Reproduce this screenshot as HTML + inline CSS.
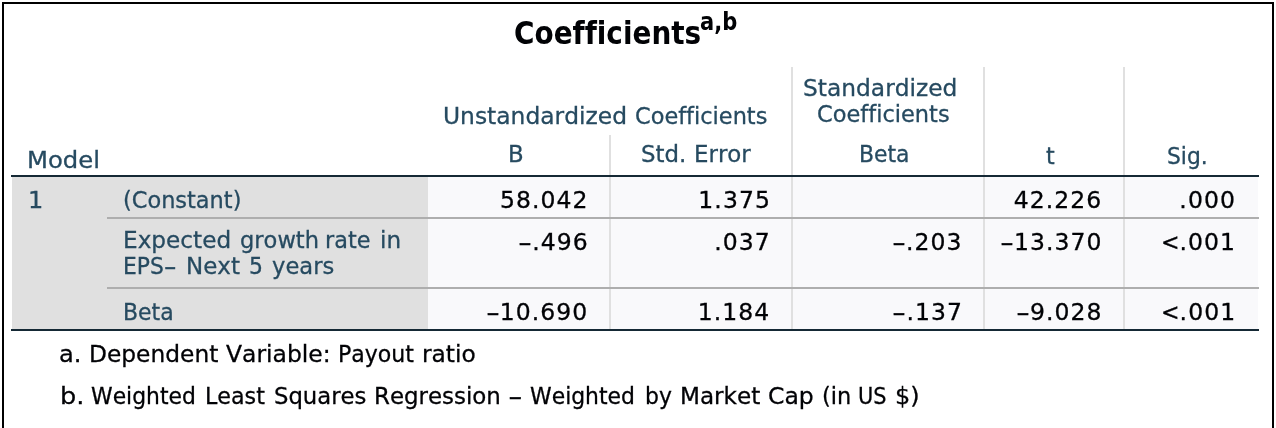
<!DOCTYPE html>
<html lang="en"><head><meta charset="utf-8"><title>Coefficients</title>
<style>
html,body{margin:0;padding:0;background:#fff;}
body{width:1276px;height:428px;overflow:hidden;position:relative;font-family:"DejaVu Sans", "Liberation Sans", sans-serif;font-size:23.5px;font-variant-ligatures:none;font-kerning:none;}
.frame{position:absolute;left:2px;top:2px;width:1268px;height:440px;border:2px solid #000;border-bottom:none;}
.bg{position:absolute;}
.g{position:absolute;left:0;top:0;width:0;height:0;margin:0;padding:0;white-space:pre;}
.t{position:absolute;white-space:pre;line-height:32px;height:32px;transform-origin:0 0;-webkit-text-stroke:0.3px;}
.lbl{color:#264a60;}
.num,.fn,.ttl,.sup{color:#010205;}
.ttl{font-family:"DejaVu Sans Condensed", "DejaVu Sans", "Liberation Sans", sans-serif;font-size:32px;font-weight:bold;}
.sup{font-family:"DejaVu Sans Condensed", "DejaVu Sans", "Liberation Sans", sans-serif;font-size:24px;font-weight:bold;}
.ttl .t,.sup .t{-webkit-text-stroke:0;}
.num{letter-spacing:1.05px;}
.lt{display:inline-block;width:19px;transform:scaleX(0.94);transform-origin:0 50%;letter-spacing:0;}
.m{display:inline-block;width:14px;transform:scaleX(1.65);transform-origin:0 50%;letter-spacing:0;}
</style></head><body>
<div class="frame"></div>

<div class="bg" style="left:12px;top:177px;width:416px;height:152px;background:#e0e0e0"></div>
<div class="bg" style="left:428px;top:177px;width:830px;height:152px;background:#f9f9fb"></div>
<div class="bg" style="left:609px;top:135px;width:2px;height:194px;background:#e0e0e0"></div>
<div class="bg" style="left:791px;top:67px;width:2px;height:262px;background:#e0e0e0"></div>
<div class="bg" style="left:983px;top:67px;width:2px;height:262px;background:#e0e0e0"></div>
<div class="bg" style="left:1123px;top:67px;width:2px;height:262px;background:#e0e0e0"></div>
<div class="bg" style="left:107px;top:217px;width:1152px;height:2px;background:#aeaeae"></div>
<div class="bg" style="left:107px;top:287px;width:1152px;height:2px;background:#aeaeae"></div>
<div class="bg" style="left:11px;top:175px;width:1248px;height:2px;background:#152935"></div>
<div class="bg" style="left:11px;top:329px;width:1248px;height:2px;background:#152935"></div>

<div class="g ttl" id="ttl"><span class="t" id="ttl_0" style="left:513.55px;top:17.31px;transform:scaleX(0.9690);">Coefficients</span></div>
<div class="g sup" id="sup"><span class="t" id="sup_0" style="left:699.87px;top:6.00px;transform:scaleX(0.9739);">a,b</span></div>
<div class="g lbl" id="hModel"><span class="t" id="hModel_0" style="left:26.90px;top:144.00px;transform:scaleX(1.0342);">Model</span></div>
<div class="g lbl" id="hUnstd"><span class="t" id="hUnstd_0" style="left:443.36px;top:100.00px;transform:scaleX(0.9948);">Unstandardized</span> <span class="t" id="hUnstd_1" style="left:635.10px;top:100.00px;transform:scaleX(0.9551);">Coefficients</span></div>
<div class="g lbl" id="hStd1"><span class="t" id="hStd1_0" style="left:803.06px;top:72.00px;transform:scaleX(0.9926);">Standardized</span></div>
<div class="g lbl" id="hStd2"><span class="t" id="hStd2_0" style="left:817.09px;top:98.00px;transform:scaleX(0.9571);">Coefficients</span></div>
<div class="g lbl" id="hB"><span class="t" id="hB_0" style="left:507.90px;top:138.00px;transform:scaleX(0.9734);">B</span></div>
<div class="g lbl" id="hSE"><span class="t" id="hSE_0" style="left:641.48px;top:138.00px;transform:scaleX(0.9738);">Std.</span> <span class="t" id="hSE_1" style="left:693.85px;top:138.00px;transform:scaleX(0.9742);">Error</span></div>
<div class="g lbl" id="hBeta"><span class="t" id="hBeta_0" style="left:859.17px;top:138.00px;transform:scaleX(0.9322);">Beta</span></div>
<div class="g lbl" id="ht"><span class="t" id="ht_0" style="left:1046.21px;top:140.00px;transform:scaleX(0.9475);">t</span></div>
<div class="g lbl" id="hSig"><span class="t" id="hSig_0" style="left:1167.10px;top:140.00px;transform:scaleX(0.9298);">Sig.</span></div>
<div class="g lbl" id="r1m"><span class="t" id="r1m_0" style="left:27.87px;top:184.00px;transform:scaleX(1.0231);">1</span></div>
<div class="g lbl" id="r1l"><span class="t" id="r1l_0" style="left:122.95px;top:184.00px;transform:scaleX(0.9548);">(Constant)</span></div>
<div class="g lbl" id="r2l1"><span class="t" id="r2l1_0" style="left:122.94px;top:224.00px;transform:scaleX(0.9861);">Expected</span> <span class="t" id="r2l1_1" style="left:240.16px;top:224.00px;transform:scaleX(0.9604);">growth</span> <span class="t" id="r2l1_2" style="left:325.39px;top:224.00px;transform:scaleX(0.9526);">rate</span> <span class="t" id="r2l1_3" style="left:380.05px;top:224.00px;transform:scaleX(0.9841);">in</span></div>
<div class="g lbl" id="r2l2"><span class="t" id="r2l2_0" style="left:123.31px;top:250.00px;transform:scaleX(0.9283);">EPS<span class="m">-</span></span> <span class="t" id="r2l2_1" style="left:186.32px;top:250.00px;transform:scaleX(0.9774);">Next</span> <span class="t" id="r2l2_2" style="left:248.80px;top:250.00px;transform:scaleX(0.9357);">5</span> <span class="t" id="r2l2_3" style="left:271.64px;top:250.00px;transform:scaleX(0.9621);">years</span></div>
<div class="g lbl" id="r3l"><span class="t" id="r3l_0" style="left:123.18px;top:296.00px;transform:scaleX(0.9341);">Beta</span></div>
<div class="g num" id="r1c1"><span class="t" id="r1c1_0" style="left:499.93px;top:184.00px;">58.042</span></div>
<div class="g num" id="r1c2"><span class="t" id="r1c2_0" style="left:698.36px;top:184.00px;">1.375</span></div>
<div class="g num" id="r1c4"><span class="t" id="r1c4_0" style="left:1013.64px;top:184.00px;">42.226</span></div>
<div class="g num" id="r1c5"><span class="t" id="r1c5_0" style="left:1179.36px;top:184.00px;">.000</span></div>
<div class="g num" id="r2c1"><span class="t" id="r2c1_0" style="left:518.15px;top:226.00px;"><span class="m">-</span>.496</span></div>
<div class="g num" id="r2c2"><span class="t" id="r2c2_0" style="left:714.28px;top:226.00px;">.037</span></div>
<div class="g num" id="r2c3"><span class="t" id="r2c3_0" style="left:892.06px;top:226.00px;"><span class="m">-</span>.203</span></div>
<div class="g num" id="r2c4"><span class="t" id="r2c4_0" style="left:999.88px;top:226.00px;"><span class="m">-</span>13.370</span></div>
<div class="g num" id="r2c5"><span class="t" id="r2c5_0" style="left:1160.55px;top:226.00px;"><span class="lt">&lt;</span>.001</span></div>
<div class="g num" id="r3c1"><span class="t" id="r3c1_0" style="left:485.69px;top:296.00px;"><span class="m">-</span>10.690</span></div>
<div class="g num" id="r3c2"><span class="t" id="r3c2_0" style="left:697.85px;top:296.00px;">1.184</span></div>
<div class="g num" id="r3c3"><span class="t" id="r3c3_0" style="left:892.41px;top:296.00px;"><span class="m">-</span>.137</span></div>
<div class="g num" id="r3c4"><span class="t" id="r3c4_0" style="left:1015.98px;top:296.00px;"><span class="m">-</span>9.028</span></div>
<div class="g num" id="r3c5"><span class="t" id="r3c5_0" style="left:1160.62px;top:296.00px;"><span class="lt">&lt;</span>.001</span></div>
<div class="g fn" id="fa"><span class="t" id="fa_0" style="left:59.18px;top:338.00px;transform:scaleX(1.0273);">a.</span> <span class="t" id="fa_1" style="left:88.98px;top:338.00px;transform:scaleX(0.9923);">Dependent</span> <span class="t" id="fa_2" style="left:225.78px;top:338.00px;transform:scaleX(0.9983);">Variable:</span> <span class="t" id="fa_3" style="left:337.73px;top:338.00px;transform:scaleX(0.9385);">Payout</span> <span class="t" id="fa_4" style="left:421.84px;top:338.00px;transform:scaleX(0.9913);">ratio</span></div>
<div class="g fn" id="fb"><span class="t" id="fb_0" style="left:59.59px;top:380.00px;transform:scaleX(1.0885);">b.</span> <span class="t" id="fb_1" style="left:91.21px;top:380.00px;transform:scaleX(0.9308);">Weighted</span> <span class="t" id="fb_2" style="left:205.19px;top:380.00px;transform:scaleX(0.9442);">Least</span> <span class="t" id="fb_3" style="left:273.60px;top:380.00px;transform:scaleX(0.9676);">Squares</span> <span class="t" id="fb_4" style="left:373.89px;top:380.00px;transform:scaleX(0.9753);">Regression</span> <span class="t" id="fb_5" style="left:507.92px;top:380.00px;transform:scaleX(1.7238);">-</span> <span class="t" id="fb_6" style="left:529.61px;top:380.00px;transform:scaleX(0.9320);">Weighted</span> <span class="t" id="fb_7" style="left:645.08px;top:380.00px;transform:scaleX(0.9317);">by</span> <span class="t" id="fb_8" style="left:679.51px;top:380.00px;transform:scaleX(0.9832);">Market</span> <span class="t" id="fb_9" style="left:767.69px;top:380.00px;transform:scaleX(0.9996);">Cap</span> <span class="t" id="fb_10" style="left:821.57px;top:380.00px;transform:scaleX(0.9559);">(in</span> <span class="t" id="fb_11" style="left:858.08px;top:380.00px;transform:scaleX(0.8880);">US</span> <span class="t" id="fb_12" style="left:894.70px;top:380.00px;transform:scaleX(1.0182);">$)</span></div>
</body></html>
